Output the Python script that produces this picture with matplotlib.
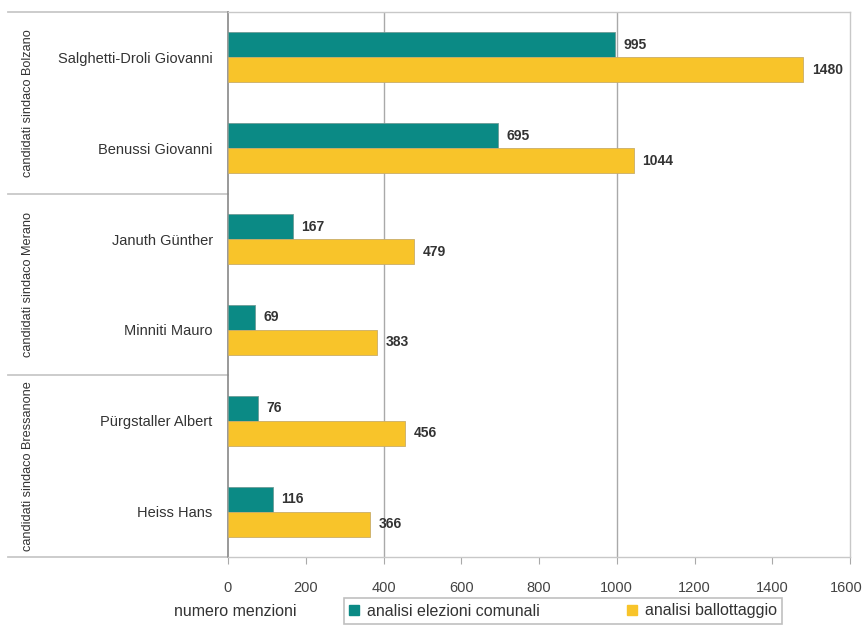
import matplotlib
matplotlib.use("Agg")
import matplotlib.pyplot as plt
import matplotlib.transforms as mtransforms
from matplotlib.patches import Patch
import numpy as np

candidates = ["Salghetti-Droli Giovanni", "Benussi Giovanni", "Januth Günther",
              "Minniti Mauro", "Pürgstaller Albert", "Heiss Hans"]
comunali = [995, 695, 167, 69, 76, 116]
ballottaggio = [1480, 1044, 479, 383, 456, 366]
groups = ["candidati sindaco Bolzano", "candidati sindaco Merano", "candidati sindaco Bressanone"]
series_names = ["analisi elezioni comunali", "analisi ballottaggio"]
xticks = [0, 200, 400, 600, 800, 1000, 1200, 1400, 1600]
gridlines = [400, 1000]
xlabel = "numero menzioni"

TEAL = "#0b8a85"
YELLOW = "#f8c42a"
GRID = "#a9a9a9"
TXT = "#333333"
FONT = ["Liberation Sans Narrow", "Liberation Sans", "DejaVu Sans"]
plt.rcParams['font.family'] = FONT

fig = plt.figure(figsize=(8.63, 6.28), dpi=100)
ax = fig.add_axes([228/863, 1-557/628, (850-228)/863, (557-12)/628])

y = np.arange(len(candidates))
h = 0.275
ax.barh(y - h/2, comunali, height=h, color=TEAL, edgecolor="#6e9c96", linewidth=0.6, zorder=3)
ax.barh(y + h/2, ballottaggio, height=h, color=YELLOW, edgecolor="#c9ad68", linewidth=0.6, zorder=3)

for i in range(len(candidates)):
    ax.annotate(str(comunali[i]), (comunali[i], y[i] - h/2), xytext=(6, 0), textcoords="offset points",
                va="center", ha="left", fontsize=10, fontweight="bold", color=TXT)
    ax.annotate(str(ballottaggio[i]), (ballottaggio[i], y[i] + h/2), xytext=(6, 0), textcoords="offset points",
                va="center", ha="left", fontsize=10, fontweight="bold", color=TXT)

ax.set_xlim(0, 1600)
ax.set_ylim(len(candidates) - 0.5, -0.5)
for g in gridlines:
    ax.axvline(g, color=GRID, lw=1.0, zorder=1)

ax.set_yticks(y)
ax.set_yticklabels(candidates, fontsize=10.5, color=TXT)
ax.tick_params(axis="y", length=0, pad=11)
ax.set_xticks(xticks)
ax.set_xticklabels([str(t) for t in xticks], fontsize=10.5, color="#444444")
ax.tick_params(axis="x", length=5, color=GRID, pad=12, direction="out")
# keep the last tick label inside the canvas
last = ax.get_xticklabels()[-1]
last.set_transform(last.get_transform() + mtransforms.ScaledTranslation(-4/100, 0, fig.dpi_scale_trans))

for s in ["top", "bottom", "right"]:
    ax.spines[s].set_color("#c8c8c8")
    ax.spines[s].set_linewidth(1.0)
ax.spines["left"].set_color("#888888")
ax.spines["left"].set_linewidth(1.2)

# group separators and labels in the left margin
tr = mtransforms.blended_transform_factory(fig.transFigure, ax.transData)
x0, x1 = 8/863, 228/863
for yb in [-0.5, 1.5, 3.5, 5.5]:
    ax.plot([x0, x1], [yb, yb], transform=tr, color="#c8c8c8", lw=1.3, clip_on=False)
for gi, g in enumerate(groups):
    ax.text(28/863, 2*gi + 0.5, g, transform=tr, rotation=90, ha="center", va="center",
            fontsize=9.2, color=TXT)

fig.text(235/863, 1-611/628, xlabel, ha="center", va="center", fontsize=11.5, color=TXT)

handles = [Patch(facecolor=TEAL, edgecolor=TEAL), Patch(facecolor=YELLOW, edgecolor=YELLOW)]
leg = fig.legend(handles, series_names, loc="center", bbox_to_anchor=(563/863, 1-611/628), ncol=2,
                 fontsize=11.5, frameon=True, fancybox=False, edgecolor="#b0b0b0",
                 handlelength=0.6, handleheight=0.6, handletextpad=0.5, columnspacing=5.5,
                 borderpad=0.35, borderaxespad=0)
leg.get_frame().set_linewidth(1.2)
for t in leg.get_texts():
    t.set_color(TXT)

fig.savefig("out.png", dpi=100)
